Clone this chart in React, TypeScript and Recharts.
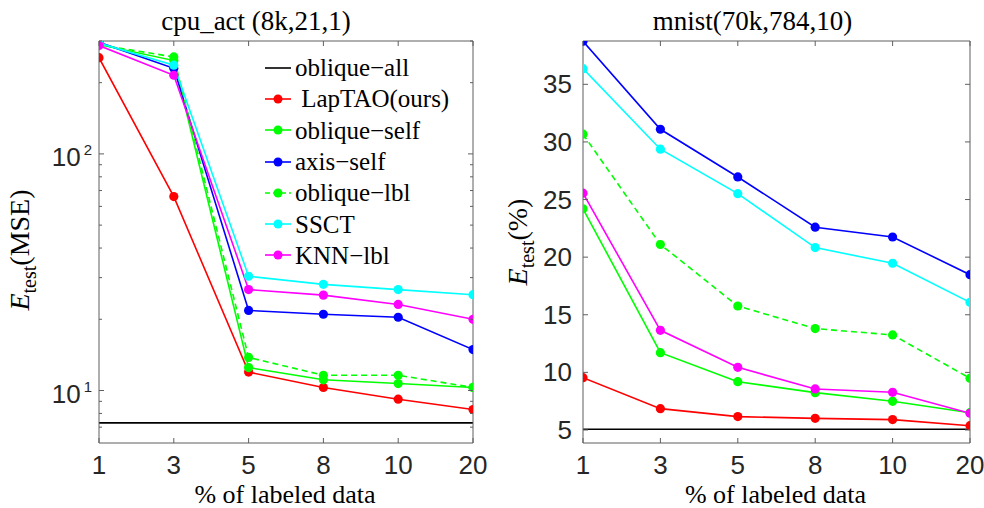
import React from 'react';
import { LineChart, Line, XAxis, YAxis, Legend, Label } from 'recharts';

// x categories (% of labeled data), plotted at even spacing
const xLabels = ['1', '3', '5', '8', '10', '20'];
const xIndex = [0, 1, 2, 3, 4, 5];

// cpu_act (8k,21,1): test MSE, log scale
const cpuObliqueAll = [7.3, 7.3, 7.3, 7.3, 7.3, 7.3];
const cpuLapTAO = [255, 66, 11.96, 10.3, 9.19, 8.31];
const cpuObliqueSelf = [290, 248, 12.5, 11.1, 10.7, 10.3];
const cpuAxisSelf = [296, 230, 21.8, 21.0, 20.4, 14.9];
const cpuObliqueLbl = [289, 257, 13.8, 11.6, 11.6, 10.3];
const cpuSSCT = [294, 237, 30.4, 28.1, 26.7, 25.4];
const cpuKNN = [287, 215, 26.7, 25.3, 23.1, 20.0];

// mnist(70k,784,10): test error %
const mnObliqueAll = [5.06, 5.06, 5.06, 5.06, 5.06, 5.06];
const mnLapTAO = [9.54, 6.85, 6.16, 6.01, 5.9, 5.37];
const mnObliqueSelf = [24.2, 11.71, 9.19, 8.24, 7.49, 6.5];
const mnAxisSelf = [38.74, 31.1, 26.96, 22.6, 21.75, 18.48];
const mnObliqueLbl = [30.67, 21.1, 15.76, 13.8, 13.25, 9.49];
const mnSSCT = [36.36, 29.37, 25.51, 20.83, 19.47, 16.08];
const mnKNN = [25.55, 13.65, 10.44, 8.56, 8.27, 6.45];

const seriesNames = ['oblique\u2212all', ' LapTAO(ours)', 'oblique\u2212self', 'axis\u2212self', 'oblique\u2212lbl', 'SSCT', 'KNN\u2212lbl'];
const seriesColors = ['#000000', '#ff0000', '#00ff00', '#0000ff', '#00ff00', '#00ffff', '#ff00ff'];
const seriesDashed = [false, false, false, false, true, false, false];
const seriesMarker = [false, true, true, true, true, true, true];
const keys = ['s0', 's1', 's2', 's3', 's4', 's5', 's6'];

const cpuTicksY = [7, 8, 9, 10, 20, 30, 40, 50, 60, 70, 80, 90, 100, 200, 300];
const cpuMajorY = [10, 100];
const mnTicksY = [5, 10, 15, 20, 25, 30, 35];

const cpuSeries = [cpuObliqueAll, cpuLapTAO, cpuObliqueSelf, cpuAxisSelf, cpuObliqueLbl, cpuSSCT, cpuKNN];
const mnSeries = [mnObliqueAll, mnLapTAO, mnObliqueSelf, mnAxisSelf, mnObliqueLbl, mnSSCT, mnKNN];

const buildRows = (series: number[][]) =>
  xIndex.map((x, i) => {
    const row: Record<string, number> = { x };
    series.forEach((s, k) => (row[keys[k]] = s[i]));
    return row;
  });

const cpuData = buildRows(cpuSeries);
const mnData = buildRows(mnSeries);

const AXIS = '#5f5f5f';
const TEXT = '#262626';
const SANS = "'Liberation Sans', Arial, Helvetica, sans-serif";
const SERIF = "'Liberation Serif', 'Times New Roman', serif";

type Side = 'bottom' | 'top' | 'left' | 'right';

const makeTick =
  (side: Side, label?: (x: number, y: number, v: number) => React.ReactNode, len?: (v: number) => number) =>
  (props: any) => {
    const { x, y, payload } = props;
    const v = payload.value;
    const l = len ? len(v) : 5;
    let c = [x, y, x, y];
    if (side === 'bottom') c = [x, y, x, y - l];
    if (side === 'top') c = [x, y, x, y + l];
    if (side === 'left') c = [x, y, x + l, y];
    if (side === 'right') c = [x, y, x - l, y];
    return (
      <g>
        <line x1={c[0]} y1={c[1]} x2={c[2]} y2={c[3]} stroke={AXIS} strokeWidth={1} />
        {label ? label(x, y, v) : null}
      </g>
    );
  };

const xTickLabel = (x: number, y: number, v: number) => (
  <text x={x} y={y + 31} textAnchor="middle" fontSize={26} fontFamily={SANS} fill={TEXT}>
    {xLabels[v]}
  </text>
);

const logLen = (v: number) => (cpuMajorY.includes(v) ? 5 : 3);

const logTickLabel = (x: number, y: number, v: number) =>
  cpuMajorY.includes(v) ? (
    <text x={x - 7} y={y + 12} textAnchor="end" fontSize={26} fontFamily={SANS} fill={TEXT}>
      10
      <tspan dx={3} dy={-11} fontSize={15}>
        {Math.round(Math.log10(v))}
      </tspan>
    </text>
  ) : null;

const linTickLabel = (x: number, y: number, v: number) => (
  <text x={x - 11} y={y + 9} textAnchor="end" fontSize={26} fontFamily={SANS} fill={TEXT}>
    {v}
  </text>
);

const titleLabel = (text: string, dx: number) => (p: any) => {
  const vb = p.viewBox;
  return (
    <text x={vb.x + vb.width / 2 + dx} y={30} textAnchor="middle" fontSize={27} fontFamily={SERIF} fill="#000">
      {text}
    </text>
  );
};

const xTitle = (p: any) => {
  const vb = p.viewBox;
  return (
    <text x={vb.x + vb.width / 2 - 1} y={503} textAnchor="middle" fontSize={26} fontFamily={SERIF} fill="#000">
      % of labeled data
    </text>
  );
};

const yTitle = (unit: string, gap: number, dy: number) => (p: any) => {
  const vb = p.viewBox;
  const bx = vb.x + vb.width - gap;
  const cy = vb.y + vb.height / 2 + dy;
  return (
    <text
      x={bx}
      y={cy}
      transform={`rotate(-90, ${bx}, ${cy})`}
      textAnchor="middle"
      fontSize={28}
      fontFamily={SERIF}
      fill="#000"
    >
      <tspan fontStyle="italic">E</tspan>
      <tspan fontSize={20} dy={7}>
        test
      </tspan>
      <tspan dy={-7}>{unit}</tspan>
    </text>
  );
};

const SeriesLegend = () => (
  <div style={{ fontFamily: SERIF, fontSize: 25, color: '#000' }}>
    {seriesNames.map((name, i) => (
      <div key={name} style={{ display: 'flex', alignItems: 'center', height: 31.3, whiteSpace: 'pre' }}>
        <svg width={33} height={20} style={{ flex: 'none' }}>
          <line
            x1={3}
            x2={29}
            y1={10}
            y2={10}
            stroke={seriesColors[i]}
            strokeWidth={1.6}
            strokeDasharray={seriesDashed[i] ? '5 3' : undefined}
          />
          {seriesMarker[i] && <circle cx={16} cy={10} r={4.5} fill={seriesColors[i]} />}
        </svg>
        <span style={{ lineHeight: '31px' }}>{name}</span>
      </div>
    ))}
  </div>
);

const renderLines = () =>
  keys.map((k, i) => (
    <Line
      key={k}
      dataKey={k}
      name={seriesNames[i]}
      stroke={seriesColors[i]}
      strokeWidth={1.6}
      strokeDasharray={seriesDashed[i] ? '6 4' : undefined}
      dot={seriesMarker[i] ? { r: 4.6, fill: seriesColors[i], stroke: 'none' } : false}
      activeDot={false}
      isAnimationActive={false}
    />
  ));

// top and right axes close the box, with inward ticks and no labels
const boxAxes = (title: string, titleDx: number, yProps: any) => [
  <XAxis
    key="xt"
    xAxisId="top"
    orientation="top"
    type="number"
    dataKey="x"
    domain={[0, 5]}
    ticks={xIndex}
    interval={0}
    allowDataOverflow
    height={1}
    stroke={AXIS}
    tickLine={false}
    tickSize={0}
    tickMargin={0}
    tick={makeTick('top')}
  >
    <Label content={titleLabel(title, titleDx)} />
  </XAxis>,
  <YAxis
    key="yr"
    yAxisId="r"
    orientation="right"
    width={1}
    stroke={AXIS}
    tickLine={false}
    tickSize={0}
    tickMargin={0}
    interval={0}
    allowDataOverflow
    {...yProps}
  />,
];

export default function App() {
  return (
    <div style={{ position: 'absolute', left: 0, top: 0, width: 984, height: 508, background: '#fff' }}>
      <div style={{ position: 'absolute', left: 0, top: 0 }}>
        <LineChart width={490} height={508} data={cpuData} margin={{ top: 40, right: 16, bottom: 5, left: 9 }}>
          <XAxis
            dataKey="x"
            type="number"
            domain={[0, 5]}
            ticks={xIndex}
            interval={0}
            allowDataOverflow
            height={60}
            stroke={AXIS}
            tickLine={false}
            tickSize={0}
            tickMargin={0}
            tick={makeTick('bottom', xTickLabel)}
          >
            <Label content={xTitle} />
          </XAxis>
          <YAxis
            type="number"
            scale="log"
            domain={[6, 300]}
            ticks={cpuTicksY}
            interval={0}
            allowDataOverflow
            width={90}
            stroke={AXIS}
            tickLine={false}
            tickSize={0}
            tickMargin={0}
            tick={makeTick('left', logTickLabel, logLen)}
          >
            <Label content={yTitle('(MSE)', 70, 8)} />
          </YAxis>
          {boxAxes('cpu_act (8k,21,1)', -30, {
            type: 'number',
            scale: 'log',
            domain: [6, 300],
            ticks: cpuTicksY,
            tick: makeTick('right', undefined, logLen),
          })}
          {renderLines()}
          <Legend
            layout="vertical"
            align="center"
            verticalAlign="middle"
            wrapperStyle={{ left: 262, top: 52, width: 220 }}
            content={() => <SeriesLegend />}
          />
        </LineChart>
      </div>
      <div style={{ position: 'absolute', left: 490, top: 0 }}>
        <LineChart width={494} height={508} data={mnData} margin={{ top: 40, right: 13, bottom: 5, left: 9 }}>
          <XAxis
            dataKey="x"
            type="number"
            domain={[0, 5]}
            ticks={xIndex}
            interval={0}
            allowDataOverflow
            height={60}
            stroke={AXIS}
            tickLine={false}
            tickSize={0}
            tickMargin={0}
            tick={makeTick('bottom', xTickLabel)}
          >
            <Label content={xTitle} />
          </XAxis>
          <YAxis
            type="number"
            domain={[3.87, 38.76]}
            ticks={mnTicksY}
            interval={0}
            allowDataOverflow
            width={84}
            stroke={AXIS}
            tickLine={false}
            tickSize={0}
            tickMargin={0}
            tick={makeTick('left', linTickLabel)}
          >
            <Label content={yTitle('(%)', 56, 0)} />
          </YAxis>
          {boxAxes('mnist(70k,784,10)', -24, {
            type: 'number',
            domain: [3.87, 38.76],
            ticks: mnTicksY,
            tick: makeTick('right'),
          })}
          {renderLines()}
        </LineChart>
      </div>
    </div>
  );
}
